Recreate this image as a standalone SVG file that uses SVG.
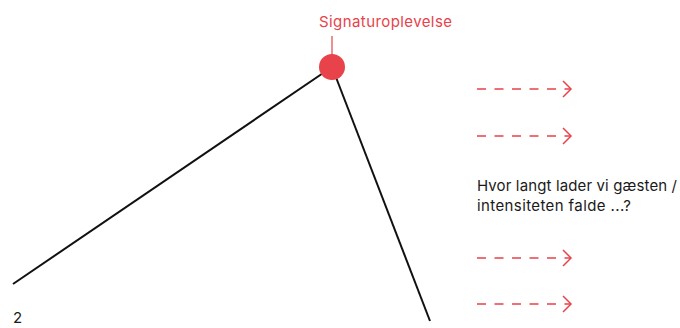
<svg xmlns="http://www.w3.org/2000/svg" width="680" height="328" viewBox="0 0 680 328">
<style>
.lbl{font-family:Inter,"Liberation Sans",Arial,sans-serif;font-size:15px;fill:#1a1a1a}
.red{fill:#E8424A}
.dash{stroke:#E8424A;stroke-width:1.5;fill:none;stroke-dasharray:9 8.5}
.head{stroke:#E8424A;stroke-width:1.5;fill:none}
.blk{stroke:#111;stroke-width:2;fill:none}
</style>
<rect width="680" height="328" fill="#fff"/>
<g id="connectors">
<line class="blk" x1="13" y1="284" x2="332" y2="67"/>
<line class="blk" x1="332" y1="67" x2="430" y2="321"/>
<line x1="332" y1="36" x2="332" y2="55" stroke="#E8424A" stroke-width="1.2"/>
</g>
<g id="peak">
<circle cx="332" cy="67" r="13" class="red"/>
<text x="319" y="27" class="lbl red" font-size="16.5" textLength="133" lengthAdjust="spacing">Signaturoplevelse</text>
</g>
<g id="arrows">
<g><line class="dash" x1="477" y1="89" x2="571" y2="89"/><polyline class="head" points="563,81 571,89 563,97"/></g>
<g><line class="dash" x1="477" y1="136" x2="571" y2="136"/><polyline class="head" points="563,128 571,136 563,144"/></g>
<g><line class="dash" x1="477" y1="258" x2="571" y2="258"/><polyline class="head" points="563,250 571,258 563,266"/></g>
<g><line class="dash" x1="477" y1="304" x2="571" y2="304"/><polyline class="head" points="563,296 571,304 563,312"/></g>
</g>
<g id="question">
<text class="lbl" x="477" y="191" textLength="200" lengthAdjust="spacing">Hvor langt lader vi gæsten /</text>
<text class="lbl" x="477" y="211" textLength="154" lengthAdjust="spacing">intensiteten falde ...?</text>
</g>
<g id="number">
<text class="lbl" x="13" y="323">2</text>
</g>
</svg>
